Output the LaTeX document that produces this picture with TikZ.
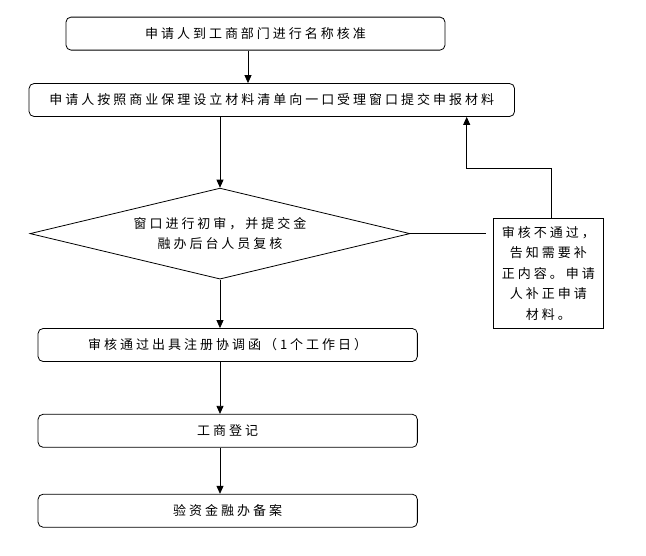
\documentclass[tikz,border=0pt]{standalone}
\usepackage{fontspec}
\setmainfont{Noto Sans CJK SC}[LetterSpace=23]
\usetikzlibrary{arrows.meta,shapes.geometric}
\begin{document}
\begin{tikzpicture}[x=1pt,y=-1pt,
  font=\fontsize{13}{20.5}\selectfont,
  rbox/.style={draw, rounded corners=5pt, line width=0.8pt, inner sep=0pt, minimum height=33pt},
  sbox/.style={draw, line width=0.8pt, inner sep=0pt, align=center},
  dbox/.style={draw, diamond, aspect=4.18, inner sep=0pt, line width=0.8pt, align=center},
  conn/.style={line width=0.8pt},
  arr/.style={conn, -{Triangle[length=8pt,width=7pt]}}
]
\useasboundingbox (0,0) rectangle (646,555);
\node[rbox, minimum width=379pt] (b1) at (255.5,33.6) {申请人到工商部门进行名称核准};
\node[rbox, minimum width=485.5pt] (b2) at (271.8,100) {申请人按照商业保理设立材料清单向一口受理窗口提交申报材料};
\node[dbox, minimum width=380pt, minimum height=91pt] (d) at (220,233.6) {窗口进行初审，并提交金\\融办后台人员复核};
\node[sbox, minimum width=110pt, minimum height=110pt] (s) at (548.3,273.3) {审核不通过，\\告知需要补\\正内容。申请\\人补正申请\\材料。};
\node[rbox, minimum width=379.3pt] (b3) at (227.7,345) {审核通过出具注册协调函（1个工作日）};
\node[rbox, minimum width=379.3pt] (b4) at (227.7,430.8) {工商登记};
\node[rbox, minimum width=379.3pt] (b5) at (227.7,510.7) {验资金融办备案};
\coordinate (a1) at (248,0);
\coordinate (c1) at (551,168);
\coordinate (c2) at (466.7,168);
\coordinate (e) at (486,231);
\draw[arr] (b1.south -| a1) -- (b2.north -| a1);
\draw[arr] (b2.south -| d.north) -- (d.north);
\draw[arr] (d.south) -- (b3.north -| d.south);
\draw[arr] (b3.south -| d.south) -- (b4.north -| d.south);
\draw[arr] (b4.south -| d.south) -- (b5.north -| d.south);
\draw[conn] (d.east) -- (e |- d.east);
\draw[arr] (s.north -| c1) -- (c1) -- (c2) -- (b2.south -| c2);
\end{tikzpicture}
\end{document}
